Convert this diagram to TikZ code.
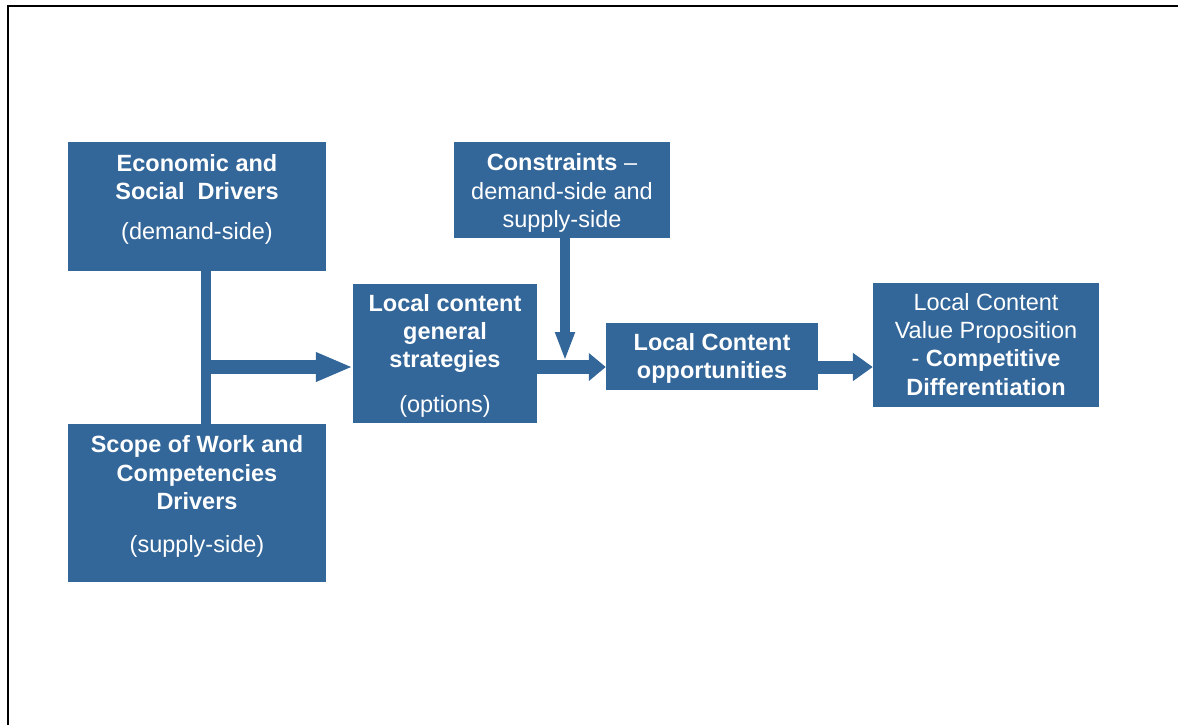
\documentclass[tikz,border=0pt]{standalone}
\usepackage{fontspec}
\setmainfont{Liberation Sans}
\usetikzlibrary{arrows.meta}
\definecolor{boxblue}{RGB}{51,102,153}
\begin{document}
\begin{tikzpicture}[x=1pt,y=-1pt,
  box/.style={fill=boxblue, draw=none, inner sep=0pt},
  txt/.style={anchor=base, inner sep=0pt, text=white, font=\fontsize{23.5}{28}\selectfont},
  bar/.style={draw=boxblue, line width=10pt},
  frame/.style={draw=black, line width=2pt}]
\useasboundingbox (0,0) rectangle (1178,724);
\draw[frame] (7.5,6) rectangle (1200,740);
% boxes
\node[box, minimum width=258pt, minimum height=129pt] (A) at (197,206.5) {};
\node[box, minimum width=258pt, minimum height=158pt] (B) at (197,503) {};
\node[box, minimum width=184pt, minimum height=139pt] (C) at (445,353.5) {};
\node[box, minimum width=216pt, minimum height=96pt] (D) at (562,190) {};
\node[box, minimum width=212pt, minimum height=67pt] (E) at (712,356.5) {};
\node[box, minimum width=226pt, minimum height=124pt] (F) at (986,345) {};
% texts
\node[txt] (a1) at (197,171) {\bfseries Economic and};
\node[txt] (a2) at (197,199) {\bfseries Social\ \ Drivers};
\node[txt] (a3) at (197,239) {(demand-side)};
\node[txt] (b1) at (197,452) {\bfseries Scope of Work and};
\node[txt] (b2) at (197,481) {\bfseries Competencies};
\node[txt] (b3) at (197,509) {\bfseries Drivers};
\node[txt] (b4) at (197,552) {(supply-side)};
\node[txt] (c1) at (445,311) {\bfseries Local content};
\node[txt] (c2) at (445,339) {\bfseries general};
\node[txt] (c3) at (445,367) {\bfseries strategies};
\node[txt] (c4) at (445,412) {(options)};
\node[txt] (d1) at (562,170) {\textbf{Constraints} --};
\node[txt] (d2) at (562,199) {demand-side and};
\node[txt] (d3) at (562,227) {supply-side};
\node[txt] (e1) at (712,350) {\bfseries Local Content};
\node[txt] (e2) at (712,378) {\bfseries opportunities};
\node[txt] (f1) at (986,310) {Local Content};
\node[txt] (f2) at (986,338) {Value Proposition};
\node[txt] (f3) at (986,366) {- \textbf{Competitive}};
\node[txt] (f4) at (986,395) {\bfseries Differentiation};
% connectors
\coordinate (j) at (206,367);
\coordinate (k) at (565,361);
\draw[bar] (A.south -| j) -- (B.north -| j);
\draw[draw=boxblue, line width=14pt, -{Triangle[length=37pt,width=27pt]}] (j) -- (C.west |- j);
\draw[draw=boxblue, line width=10pt, -{Triangle[length=29pt,width=18pt]}] (D.south -| k) -- (k);
\draw[draw=boxblue, line width=14pt, -{Triangle[length=17pt,width=27pt]}] (C.east |- j) -- (E.west |- j);
\draw[draw=boxblue, line width=13pt, -{Triangle[length=20pt,width=27pt]}] (E.east |- j) -- (F.west |- j);
\end{tikzpicture}
\end{document}
